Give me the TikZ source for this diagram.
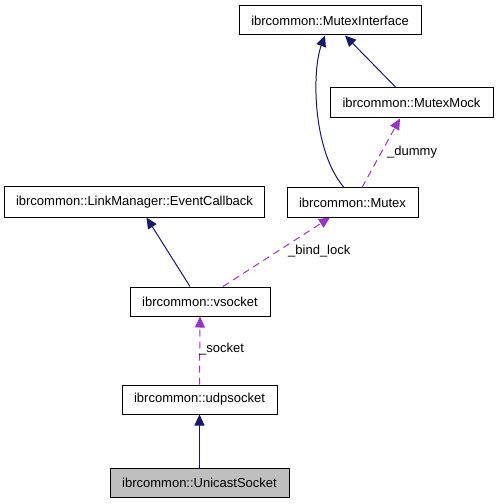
\documentclass[tikz,border=0pt]{standalone}
\usepackage{fontspec}
\setmainfont{Liberation Sans}
\usetikzlibrary{arrows.meta}
\definecolor{navyc}{HTML}{191970}
\definecolor{purpc}{HTML}{9A32CD}
\definecolor{grayc}{HTML}{BFBFBF}
\begin{document}
\begin{tikzpicture}[x=1bp,y=-1bp,
  cls/.style={draw=black,line width=1bp,fill=white,inner sep=0pt,font=\fontsize{13bp}{15bp}\selectfont},
  inh/.style={draw=navyc,line width=1bp,-{Triangle[length=11bp,width=10bp,fill=navyc]}},
  use/.style={draw=purpc,line width=1bp,dash pattern=on 7bp off 5bp,-{Triangle[length=11bp,width=10bp,fill=purpc]}},
  lbl/.style={font=\fontsize{13bp}{15bp}\selectfont,inner sep=0pt,anchor=west}]
\useasboundingbox[fill=white] (0,0) rectangle (499,504);
\node[cls,minimum width=182bp,minimum height=29bp] (mi) at (330,20.5) {ibrcommon::MutexInterface};
\node[cls,minimum width=163bp,minimum height=30bp] (mm) at (411.5,103) {ibrcommon::MutexMock};
\node[cls,minimum width=131bp,minimum height=29bp] (mx) at (352.5,202.5) {ibrcommon::Mutex};
\node[cls,minimum width=259bp,minimum height=30bp] (ec) at (134.5,202) {ibrcommon::LinkManager::EventCallback};
\node[cls,minimum width=140bp,minimum height=29bp] (vs) at (200,301.5) {ibrcommon::vsocket};
\node[cls,minimum width=155bp,minimum height=29bp] (us) at (199.5,399.5) {ibrcommon::udpsocket};
\node[cls,fill=grayc,minimum width=179bp,minimum height=29bp] (uc) at (199.5,482.5) {ibrcommon::UnicastSocket};
% inheritance
\draw[inh] ([xshift=-8.5bp]mx.north) .. controls (312,150) and (312,70) .. ([xshift=-5bp]mi.south);
\draw[inh] ([xshift=-15.5bp]mm.north) -- ([xshift=15bp]mi.south);
\draw[inh] ([xshift=-10bp]vs.north) -- ([xshift=12bp]ec.south);
\draw[inh] (uc.north) -- (us.north |- us.south);
% usage
\draw[use] ([xshift=9.5bp]mx.north) -- ([xshift=-11.5bp]mm.south);
\draw[use] ([xshift=23bp]vs.north) -- ([xshift=-22.5bp]mx.south);
\draw[use] (us.north) -- (vs.south);
\node[lbl] (l1) at (387,152) {\_dummy};
\node[lbl] (l2) at (288,251) {\_bind\_lock};
\node[lbl] (l3) at (199,349) {\_socket};
\end{tikzpicture}
\end{document}
